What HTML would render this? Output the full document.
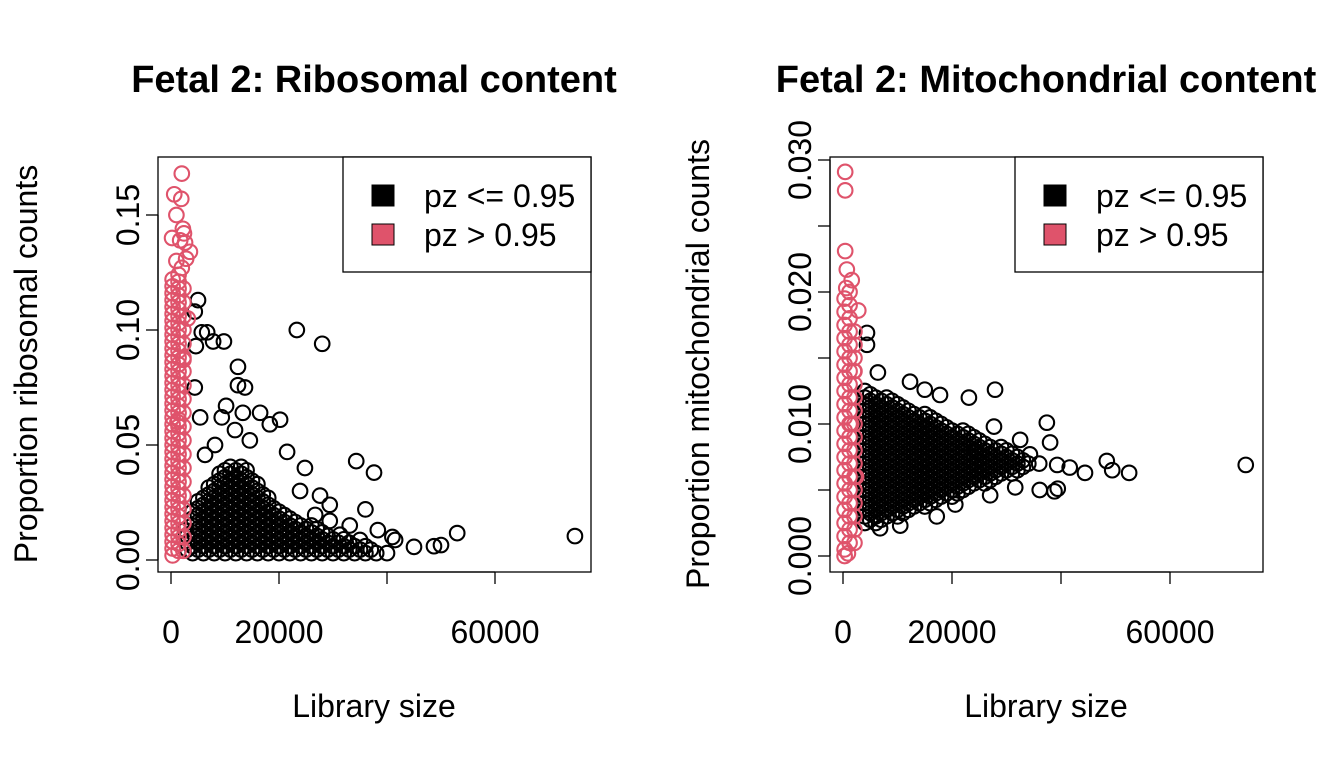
<!DOCTYPE html>
<html><head><meta charset="utf-8"><style>
html,body{margin:0;padding:0;background:#fff}
svg{display:block;font-family:"Liberation Sans",Arial,sans-serif}
</style></head><body>
<svg id="chart" width="1344" height="768" viewBox="0 0 1344 768"></svg>
<script>
// ---------- DATA: Ribosomal panel (core x values in thousands) ----------
const riboCoreY = [0.0030,0.0045,0.0060,0.0075,0.0090,0.0105,0.0120,0.0135,0.0150,0.0165,0.0180,0.0195,0.0210,0.0225,0.0240,0.0255,0.0270,0.0285,0.0300,0.0315,0.0330,0.0345,0.0360,0.0375,0.0390,0.0405];
const riboCoreXk = [
 [4,6,8,10,12,14,16,18,20,22,24,26,28,30,32,34,36,38,40],
 [3,5,7,9,11,13,15,17,19,21,23,25,27,29,31,33,35,37],
 [4,6,8,10,12,14,16,18,20,22,24,26,28,30,32,34,36],
 [3,5,7,9,11,13,15,17,19,21,23,25,27,29,31,33],
 [4,6,8,10,12,14,16,18,20,22,24,26,28,30,32],
 [3,5,7,9,11,13,15,17,19,21,23,25,27,29],
 [4,6,8,10,12,14,16,18,20,22,24,26,28],
 [5,7,9,11,13,15,17,19,21,23,25,27],
 [4,6,8,10,12,14,16,18,20,22,24,26],
 [5,7,9,11,13,15,17,19,21,23],
 [4,6,8,10,12,14,16,18,20,22],
 [5,7,9,11,13,15,17,19,21],
 [4,6,8,10,12,14,16,18,20],
 [5,7,9,11,13,15,17,19],
 [6,8,10,12,14,16,18],
 [5,7,9,11,13,15,17],
 [6,8,10,12,14,16,18],
 [7,9,11,13,15,17],
 [8,10,12,14,16],
 [7,9,11,13,15],
 [8,10,12,14,16],
 [9,11,13,15],
 [10,12,14],
 [9,11,13],
 [10,12,14],
 [11,13]
];
const riboOutX = [23300,28000,5000,4400,5700,6700,7800,9800,4600,12400,12400,13700,4400,5400,9400,10200,13300,16500,20200,21500,24800,34300,37600,36000,27600,23900,29400,33100,38300,41000,45000,48700,50000,53000,74800,41500,35000,14600,18300,11850,8150,6300,29400,26700,31300,2600];
const riboOutY = [0.100,0.094,0.113,0.108,0.099,0.099,0.095,0.095,0.093,0.084,0.076,0.075,0.075,0.062,0.062,0.067,0.064,0.064,0.061,0.047,0.040,0.043,0.038,0.022,0.028,0.030,0.017,0.015,0.013,0.010,0.0057,0.006,0.0065,0.0117,0.0104,0.0087,0.0087,0.052,0.059,0.0565,0.050,0.0457,0.024,0.0196,0.011,0.013];
const riboRedX = [300,1400,300,1400,300,1400,300,1400,300,1400,300,1400,300,1400,300,1400,300,1400,300,1400,300,1400,300,1400,300,1400,300,1400,300,1400,300,1400,300,1400,300,1400,300,1400,300,1400,300,1400,300,1400,300,1400,300,1400,300,1400,300,1400,300,1400,300,1400,300,1400,300,1400,300,1400,300,1400,300,1400,300,1400,300,1400,300,1400,300,1400,300,1400,300,1400,300,1400,300,1400,
 2000,600,1900,1000,2200,200,1700,3500,2600,2400,1000,2800,2000,3100,2300,1200,
 2300,2300,2300,2300,2300,2300,2300,2300,2300,2300,2300,2300,2300,2300,2300,2300,2300,2300,2300,2300];
const riboRedY = [0.002,0.004,0.005,0.007,0.008,0.010,0.011,0.013,0.014,0.016,0.017,0.019,0.020,0.022,0.023,0.025,0.026,0.028,0.029,0.031,0.032,0.034,0.035,0.037,0.038,0.040,0.041,0.043,0.044,0.046,0.047,0.049,0.050,0.052,0.053,0.055,0.056,0.058,0.059,0.061,0.062,0.064,0.065,0.067,0.068,0.070,0.071,0.073,0.074,0.076,0.077,0.079,0.080,0.082,0.083,0.085,0.086,0.088,0.089,0.091,0.092,0.094,0.095,0.097,0.098,0.100,0.101,0.103,0.104,0.106,0.107,0.109,0.110,0.112,0.113,0.115,0.116,0.118,0.119,0.121,0.122,0.124,
 0.168,0.159,0.157,0.150,0.144,0.140,0.139,0.134,0.138,0.142,0.130,0.131,0.127,0.105,0.087,0.060,
 0.004,0.010,0.016,0.022,0.028,0.034,0.040,0.046,0.052,0.058,0.064,0.070,0.076,0.082,0.088,0.094,0.100,0.106,0.112,0.118];

// ---------- DATA: Mitochondrial panel (core x values in thousands) ----------
const mitoCoreY = [0.0025,0.00275,0.0030,0.00325,0.0035,0.00375,0.0040,0.00425,0.0045,0.00475,0.0050,0.00525,0.0055,0.00575,0.0060,0.00625,0.0065,0.00675,0.0070,0.00725,0.0075,0.00775,0.0080,0.00825,0.0085,0.00875,0.0090,0.00925,0.0095,0.00975,0.0100,0.01025,0.0105,0.01075,0.0110,0.01125,0.0115,0.01175,0.0120,0.01225,0.0125];
const mitoCoreXk = [
 [4,6],
 [5,7],
 [4,6,8,10],
 [5,7,9,11],
 [4,6,8,10,12],
 [5,7,9,11,13,15],
 [4,6,8,10,12,14,16],
 [5,7,9,11,13,15,17],
 [4,6,8,10,12,14,16,18,20],
 [5,7,9,11,13,15,17,19,21],
 [4,6,8,10,12,14,16,18,20,22],
 [5,7,9,11,13,15,17,19,21,23],
 [4,6,8,10,12,14,16,18,20,22,24,26],
 [5,7,9,11,13,15,17,19,21,23,25,27],
 [4,6,8,10,12,14,16,18,20,22,24,26,28],
 [5,7,9,11,13,15,17,19,21,23,25,27,29,31],
 [4,6,8,10,12,14,16,18,20,22,24,26,28,30,32],
 [5,7,9,11,13,15,17,19,21,23,25,27,29,31,33],
 [4,6,8,10,12,14,16,18,20,22,24,26,28,30,32,34,36],
 [5,7,9,11,13,15,17,19,21,23,25,27,29,31,33],
 [4,6,8,10,12,14,16,18,20,22,24,26,28,30,32],
 [5,7,9,11,13,15,17,19,21,23,25,27,29,31],
 [4,6,8,10,12,14,16,18,20,22,24,26,28,30],
 [5,7,9,11,13,15,17,19,21,23,25,27,29],
 [4,6,8,10,12,14,16,18,20,22,24,26],
 [5,7,9,11,13,15,17,19,21,23,25],
 [4,6,8,10,12,14,16,18,20,22,24],
 [5,7,9,11,13,15,17,19,21,23],
 [4,6,8,10,12,14,16,18,20,22],
 [5,7,9,11,13,15,17,19],
 [4,6,8,10,12,14,16,18],
 [5,7,9,11,13,15,17],
 [4,6,8,10,12,14,16],
 [5,7,9,11,13,15],
 [4,6,8,10,12],
 [5,7,9,11],
 [4,6,8,10],
 [5,7,9],
 [4,6,8],
 [5],
 [4]
];
const mitoOutX = [4400,4400,6400,73900,48400,49400,52500,44400,39300,37400,39400,38800,27900,23100,27700,24400,17200,38000,41600,34300,32500,36100,31600,27000,20600,10500,6800,12300,15000,17800];
const mitoOutY = [0.0169,0.0160,0.0139,0.0069,0.0072,0.0065,0.0063,0.0063,0.0069,0.0101,0.0051,0.0049,0.0126,0.0120,0.0098,0.0079,0.0030,0.0086,0.0067,0.0077,0.0088,0.0050,0.0052,0.0046,0.0039,0.0023,0.0021,0.0132,0.0126,0.0122];
const mitoRedX = [300,1200,300,1200,300,1200,300,1200,300,1200,300,1200,300,1200,300,1200,300,1200,300,1200,300,1200,300,1200,300,1200,300,1200,300,1200,300,1200,300,1200,300,1200,300,1200,300,1200,
 400,400,400,700,1600,600,2800,300,900,1500,2000,2400,
 2100,2100,2100,2100,2100,2100,2100,2100,2100,2100,2100,2100,2100,2100,2100,2100,2100];
const mitoRedY = [0.0005,0.0010,0.0015,0.0020,0.0025,0.0030,0.0035,0.0040,0.0045,0.0050,0.0055,0.0060,0.0065,0.0070,0.0075,0.0080,0.0085,0.0090,0.0095,0.0100,0.0105,0.0110,0.0115,0.0120,0.0125,0.0130,0.0135,0.0140,0.0145,0.0150,0.0155,0.0160,0.0165,0.0170,0.0175,0.0180,0.0185,0.0190,0.0195,0.0200,
 0.0291,0.0277,0.0231,0.0217,0.0209,0.0203,0.0186,0.0000,0.0002,0.0100,0.0140,0.0060,
 0.0010,0.0020,0.0030,0.0040,0.0050,0.0060,0.0070,0.0080,0.0090,0.0100,0.0110,0.0120,0.0130,0.0140,0.0150,0.0160,0.0170];

const xTicks = [0,20000,40000,60000];
const xTickLabels = ["0","20000","","60000"];
const riboTicks = [0,0.05,0.10,0.15];
const riboTickLabels = ["0.00","0.05","0.10","0.15"];
const mitoTicks = [0,0.005,0.010,0.015,0.020,0.025,0.030];
const mitoTickLabels = ["0.000","","0.010","","0.020","","0.030"];
const legendLabels = ["pz <= 0.95","pz > 0.95"];

const NS = "http://www.w3.org/2000/svg";
const svg = document.getElementById('chart');
function mk(tag, attrs, parent, text){
  const e = document.createElementNS(NS, tag);
  for (const k in attrs) e.setAttribute(k, attrs[k]);
  if (text !== undefined) e.textContent = text;
  (parent || svg).appendChild(e);
  return e;
}
const RED = "#DF536B";

function panel(cfg){
  const g = mk('g', {});
  
  
  const sx = v => cfg.x0 + v * cfg.xs;
  const sy = v => cfg.y0 - v * cfg.ys;
  const pts = mk('g', {fill:'none', 'stroke-width':'2.1'}, g);
  
  
  function dot(x, y, col){
    const c = mk('circle', {cx:sx(x), cy:sy(y), r:7.3, stroke:col}, pts);
    
    
  }
  cfg.coreY.forEach((y, i) => cfg.coreXk[i].forEach(xk => dot(xk * 1000, y, '#000')));
  cfg.outX.forEach((x, i) => dot(x, cfg.outY[i], '#000'));
  cfg.redX.forEach((x, i) => dot(x, cfg.redY[i], RED));
  const box = mk('rect', {x:cfg.bx, y:157, width:433, height:415, fill:'none', stroke:'#000', 'stroke-width':1.3}, g);
  
  
  const xa = mk('g', {}, g);
  
  
  mk('line', {x1:sx(xTicks[0]), x2:sx(xTicks[xTicks.length-1]), y1:572, y2:572, stroke:'#000','stroke-width':1.3}, xa);
  xTicks.forEach((t, i) => {
    mk('line', {x1:sx(t), x2:sx(t), y1:572, y2:584, stroke:'#000','stroke-width':1.3}, xa);
    if (xTickLabels[i]) {
      const tl = mk('text', {x:sx(t), y:643, 'font-size':32, 'text-anchor':'middle'}, xa, xTickLabels[i]);
      
      
    }
  });
  const xt = mk('text', {x:cfg.bx+216, y:717, 'font-size':32, 'text-anchor':'middle'}, g, 'Library size');
  
  
  const ya = mk('g', {}, g);
  
  
  const yt0 = sy(cfg.yTicks[0]), yt1 = sy(cfg.yTicks[cfg.yTicks.length-1]);
  mk('line', {x1:cfg.bx, x2:cfg.bx, y1:yt0, y2:yt1, stroke:'#000','stroke-width':1.3}, ya);
  cfg.yTicks.forEach((t, i) => {
    mk('line', {x1:cfg.bx-12, x2:cfg.bx, y1:sy(t), y2:sy(t), stroke:'#000','stroke-width':1.3}, ya);
    if (cfg.yLabels[i]) {
      const tx = cfg.bx - 19, ty = sy(t);
      const tl = mk('text', {x:tx, y:ty, 'font-size':32, 'text-anchor':'middle', transform:`rotate(-90 ${tx} ${ty})`}, ya, cfg.yLabels[i]);
      
      
    }
  });
  const ytx = cfg.bx - 121, yty = 364;
  const yt = mk('text', {x:ytx, y:yty, 'font-size':32, 'text-anchor':'middle', transform:`rotate(-90 ${ytx} ${yty})`}, g, cfg.yTitle);
  
  
  const ti = mk('text', {x:cfg.bx+216, y:92, 'font-size':38, 'font-weight':'bold', 'text-anchor':'middle'}, g, cfg.title);
  
  
  const lg = mk('g', {}, g);
  
  
  const lx = cfg.bx + 185;
  mk('rect', {x:lx, y:157, width:248, height:115, fill:'#fff', stroke:'#000', 'stroke-width':1.3}, lg);
  [['#000',185],[RED,224]].forEach((p, i) => {
    const e = mk('g', {}, lg);
    
    
    mk('rect', {x:lx+29, y:p[1], width:22, height:21, fill:p[0], stroke:'#000', 'stroke-width':1}, e);
    mk('text', {x:lx+81, y:p[1]+22, 'font-size':32}, e, legendLabels[i]);
  });
}

panel({name:'ribosomal-panel', bx:158, x0:171, xs:108/20000, y0:560, ys:2300,
  coreY:riboCoreY, coreXk:riboCoreXk, outX:riboOutX, outY:riboOutY, redX:riboRedX, redY:riboRedY,
  yTicks:riboTicks, yLabels:riboTickLabels, yTitle:'Proportion ribosomal counts', title:'Fetal 2: Ribosomal content'});
panel({name:'mitochondrial-panel', bx:830, x0:843, xs:109/20000, y0:556, ys:13200,
  coreY:mitoCoreY, coreXk:mitoCoreXk, outX:mitoOutX, outY:mitoOutY, redX:mitoRedX, redY:mitoRedY,
  yTicks:mitoTicks, yLabels:mitoTickLabels, yTitle:'Proportion mitochondrial counts', title:'Fetal 2: Mitochondrial content'});
</script>
</body></html>
